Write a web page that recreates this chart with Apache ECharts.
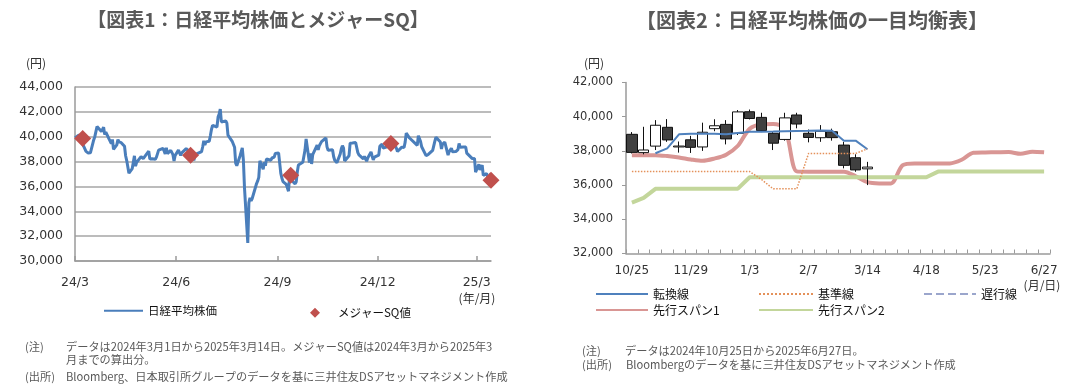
<!DOCTYPE html>
<html><head><meta charset="utf-8">
<script src="https://cdn.jsdelivr.net/npm/echarts@6/dist/echarts.min.js"></script>
<style>html,body{margin:0;padding:0;background:#fff}#c{width:1087px;height:391px}</style>
</head><body><div id="c"></div>
<script>
// ---------- Chart 1: Nikkei daily close & major SQ ----------
const nikkeiDates = [
'2024-03-01','2024-03-04','2024-03-05','2024-03-06','2024-03-07','2024-03-08','2024-03-11','2024-03-12','2024-03-13','2024-03-14','2024-03-15','2024-03-18','2024-03-19','2024-03-21','2024-03-22','2024-03-25','2024-03-26','2024-03-27','2024-03-28','2024-03-29',
'2024-04-01','2024-04-02','2024-04-03','2024-04-04','2024-04-05','2024-04-08','2024-04-09','2024-04-10','2024-04-11','2024-04-12','2024-04-15','2024-04-16','2024-04-17','2024-04-18','2024-04-19','2024-04-22','2024-04-23','2024-04-24','2024-04-25','2024-04-26','2024-04-30',
'2024-05-01','2024-05-02','2024-05-07','2024-05-08','2024-05-09','2024-05-10','2024-05-13','2024-05-14','2024-05-15','2024-05-16','2024-05-17','2024-05-20','2024-05-21','2024-05-22','2024-05-23','2024-05-24','2024-05-27','2024-05-28','2024-05-29','2024-05-30','2024-05-31',
'2024-06-03','2024-06-04','2024-06-05','2024-06-06','2024-06-07','2024-06-10','2024-06-11','2024-06-12','2024-06-13','2024-06-14','2024-06-17','2024-06-18','2024-06-19','2024-06-20','2024-06-21','2024-06-24','2024-06-25','2024-06-26','2024-06-27','2024-06-28',
'2024-07-01','2024-07-02','2024-07-03','2024-07-04','2024-07-05','2024-07-08','2024-07-09','2024-07-10','2024-07-11','2024-07-12','2024-07-16','2024-07-17','2024-07-18','2024-07-19','2024-07-22','2024-07-23','2024-07-24','2024-07-25','2024-07-26','2024-07-29','2024-07-30','2024-07-31',
'2024-08-01','2024-08-02','2024-08-05','2024-08-06','2024-08-07','2024-08-08','2024-08-09','2024-08-13','2024-08-14','2024-08-15','2024-08-16','2024-08-19','2024-08-20','2024-08-21','2024-08-22','2024-08-23','2024-08-26','2024-08-27','2024-08-28','2024-08-29','2024-08-30',
'2024-09-02','2024-09-03','2024-09-04','2024-09-05','2024-09-06','2024-09-09','2024-09-10','2024-09-11','2024-09-12','2024-09-13','2024-09-17','2024-09-18','2024-09-19','2024-09-20','2024-09-24','2024-09-25','2024-09-26','2024-09-27','2024-09-30',
'2024-10-01','2024-10-02','2024-10-03','2024-10-04','2024-10-07','2024-10-08','2024-10-09','2024-10-10','2024-10-11','2024-10-15','2024-10-16','2024-10-17','2024-10-18','2024-10-21','2024-10-22','2024-10-23','2024-10-24','2024-10-25','2024-10-28','2024-10-29','2024-10-30','2024-10-31',
'2024-11-01','2024-11-05','2024-11-06','2024-11-07','2024-11-08','2024-11-11','2024-11-12','2024-11-13','2024-11-14','2024-11-15','2024-11-18','2024-11-19','2024-11-20','2024-11-21','2024-11-22','2024-11-25','2024-11-26','2024-11-27','2024-11-28','2024-11-29',
'2024-12-02','2024-12-03','2024-12-04','2024-12-05','2024-12-06','2024-12-09','2024-12-10','2024-12-11','2024-12-12','2024-12-13','2024-12-16','2024-12-17','2024-12-18','2024-12-19','2024-12-20','2024-12-23','2024-12-24','2024-12-25','2024-12-26','2024-12-27','2024-12-30',
'2025-01-06','2025-01-07','2025-01-08','2025-01-09','2025-01-10','2025-01-14','2025-01-15','2025-01-16','2025-01-17','2025-01-20','2025-01-21','2025-01-22','2025-01-23','2025-01-24','2025-01-27','2025-01-28','2025-01-29','2025-01-30','2025-01-31',
'2025-02-03','2025-02-04','2025-02-05','2025-02-06','2025-02-07','2025-02-10','2025-02-12','2025-02-13','2025-02-14','2025-02-17','2025-02-18','2025-02-19','2025-02-20','2025-02-21','2025-02-25','2025-02-26','2025-02-27','2025-02-28',
'2025-03-03','2025-03-04','2025-03-05','2025-03-06','2025-03-07','2025-03-10','2025-03-11','2025-03-12','2025-03-13','2025-03-14'];
const nikkeiClose = [
39910,40109,40097,40090,39598,39688,38820,38797,38695,38807,38707,39740,40004,40815,40888,40414,40398,40762,40168,40369,
39803,39838,39451,39773,38992,39347,39773,39581,39442,39523,39232,38471,38079,38079,37068,37438,37552,38460,37628,37934,38405,
38274,38236,38835,38202,38073,38229,38179,38356,38385,38920,38787,39069,38946,38617,39103,38646,38900,38855,38556,38054,38487,
38923,38837,38490,38703,38683,39038,39134,38876,38720,38814,38102,38482,38570,38633,38596,38804,39173,39667,39341,39583,
39631,40074,40580,40913,40912,40780,41580,41831,42224,41190,41275,41097,40126,40063,39599,39594,39155,37869,37667,38468,38525,39101,
38126,35909,31458,34675,35089,34831,35025,36232,36442,36726,38062,37388,37951,37670,38211,38364,38110,38288,38371,38362,38647,
38700,38686,37047,36657,36391,36159,36215,35619,36833,36581,36203,36380,37155,37723,37940,37870,38925,39829,37919,
38651,37808,38552,38635,39332,38937,39277,39380,39605,39910,39180,38911,38981,38954,38411,38104,38143,37913,38605,39027,39277,39081,
38053,38474,39480,39381,39500,39533,39376,38721,38536,38642,38220,38414,38352,38026,38283,38780,38442,38134,38349,38208,
38513,39248,39276,39395,39091,39160,39367,39372,39849,39470,39457,39364,39081,38813,38701,39161,39036,39130,39568,40281,39894,
39307,40083,39981,39605,39190,38474,38444,38572,38451,38902,39027,39646,39958,39931,39565,39016,39414,39513,39572,
38520,38798,38831,39066,38787,38801,38963,39461,39149,39174,39270,39164,38678,38776,38237,38142,38256,37155,
37785,37331,37418,37704,36887,37028,36793,36819,36790,37053];
const sqDates = ['2024-03-08','2024-06-14','2024-09-13','2024-12-13','2025-03-14'];
const sqValues = [39850,38500,36900,39450,36500];
const monthTicks = ['2024-03-01','2024-06-01','2024-09-01','2024-12-01','2025-03-01'];

// ---------- Chart 2: weekly Ichimoku ----------
const weeks = ['10/25','11/1','11/8','11/15','11/22','11/29','12/6','12/13','12/20','12/27','1/3','1/10','1/17','1/24','1/31','2/7','2/14','2/21','2/28','3/7','3/14','3/21','3/28','4/4','4/11','4/18','4/25','5/2','5/9','5/16','5/23','5/30','6/6','6/13','6/20','6/27'];
const candleOpen  = [38970,37900,38280,39380,38230,38650,38230,39300,39550,39030,40290,39960,39030,38670,40100,39030,38770,39120,38340,37600,36950];
const candleClose = [37913,38053,39500,38642,38283,38208,39091,39470,38701,40281,39894,39190,38451,39931,39572,38787,39149,38776,37155,36887,37053];
const candleLow   = [37850,37800,38050,38530,37900,37880,38000,39150,38380,38930,39840,39100,38050,38600,39320,38500,38530,38600,36980,36780,36000];
const candleHigh  = [39100,39410,39800,39860,38550,38880,39650,39850,39800,40390,40420,40230,39100,40230,40230,39250,39510,39300,38530,37800,37360];
const tenkan  = [null,null,37860,38150,38970,39000,39000,39000,38970,39050,39120,39120,39130,39150,39170,39180,39200,39180,38600,38600,38100];
const kijun   = [36790,36790,36790,36790,36790,36790,36790,36790,36790,36790,36790,36330,35780,35780,35780,37850,37850,37850,37850,37850,38120];
const chikou  = [];
const senkou1 = [37750,37750,37750,37700,37620,37500,37420,37550,37780,38300,39300,39550,39570,39300,36800,36780,36780,36780,36780,36520,36170,36100,36100,37170,37270,37270,37270,37270,37480,37890,37910,37920,37930,37830,37950,37920];
const senkou2 = [34980,35250,35780,35790,35790,35790,35790,35790,35790,35790,36460,36460,36460,36460,36460,36460,36460,36460,36460,36460,36460,36460,36460,36460,36460,36460,36790,36790,36790,36790,36790,36790,36790,36790,36790,36790];

const DAY = 86400000;
const ts = s => { const [y,m,d] = s.split('-').map(Number); return Date.UTC(y, m-1, d); };
const T0 = ts(nikkeiDates[0]);
const dayOf = s => Math.round((ts(s) - T0) / DAY);
const NUM = '"DejaVu Sans", "Noto Sans CJK JP", sans-serif';
const JP = '"Noto Sans CJK JP", sans-serif';
const AX = '#9A9A9A';

const chart = echarts.init(document.getElementById('c'), null, {renderer:'canvas'});
const txt = (text, x, y, font, fill, align) => ({type:'text', style:{text, x, y, font, fill: fill || '#333', textAlign: align || 'left', textVerticalAlign:'middle'}});
const tickDays = monthTicks.map(dayOf);
// legend icon: small diamond centred in a wider box (the zero-width baseline only sets the box width)
const DIAMOND_ICON = 'path://M0,5L36,5M18,0L23,5L18,10L13,5Z';

chart.setOption({
  animation:false,
  textStyle:{fontFamily: JP},
  grid:[
    {left:75, top:87, width:416, height:174},
    {left:626, top:82.5, width:424, height:171}
  ],
  xAxis:[
    {type:'value', gridIndex:0, min: 0, max: dayOf('2025-03-14'),
     axisLine:{lineStyle:{color:AX, width:1.5}},
     axisTick:{show:true, inside:true, length:5, customValues: tickDays, lineStyle:{color:AX, width:1.5}},
     axisLabel:{customValues: tickDays, margin:15, fontSize:12.5, fontFamily:NUM, color:'#333',
       formatter: v => { const d = new Date(T0 + v * DAY); return String(d.getUTCFullYear()).slice(2) + '/' + (d.getUTCMonth()+1); }},
     splitLine:{show:false}},
    {type:'category', gridIndex:1, data: weeks, boundaryGap:true,
     axisLine:{lineStyle:{color:AX, width:1.5}},
     axisTick:{show:true, inside:true, length:4, interval:0, lineStyle:{color:AX, width:1}},
     axisLabel:{interval:4, margin:11, fontSize:12, fontFamily:NUM, color:'#333'},
     splitLine:{show:false}}
  ],
  yAxis:[
    {type:'value', gridIndex:0, min:30000, max:44000, interval:2000,
     axisLine:{show:true, lineStyle:{color:AX, width:1.5}}, axisTick:{show:false},
     splitLine:{show:true, lineStyle:{color:'#A6A6A6', width:1.5}},
     axisLabel:{margin:12, fontSize:12.5, fontFamily:NUM, color:'#333'}},
    {type:'value', gridIndex:1, min:32000, max:42000, interval:2000,
     axisLine:{show:true, lineStyle:{color:AX, width:1.5}},
     axisTick:{show:true, inside:false, length:4, lineStyle:{color:AX}},
     splitLine:{show:false},
     axisLabel:{margin:13, fontSize:11.5, fontFamily:NUM, color:'#333'}}
  ],
  legend:[
    {data:['日経平均株価'], left:103, top:305, padding:0, itemWidth:39, itemHeight:14, itemStyle:{opacity:0},
     textStyle:{fontSize:11.5, color:'#111', fontFamily:JP}, selectedMode:false},
    {data:[{name:'メジャーSQ値', icon: DIAMOND_ICON}], left:297, top:307, padding:0, itemWidth:36, itemHeight:10,
     itemStyle:{borderWidth:0}, textStyle:{fontSize:11.5, color:'#111', fontFamily:JP}, selectedMode:false},
    {data:['転換線','先行スパン1'], orient:'vertical', left:595, top:288, padding:0, itemGap:4, itemWidth:52, itemHeight:14, itemStyle:{opacity:0},
     textStyle:{fontSize:12, color:'#111', fontFamily:JP}, selectedMode:false},
    {data:['基準線','先行スパン2'], orient:'vertical', left:758, top:288, padding:0, itemGap:4, itemWidth:54, itemHeight:14, itemStyle:{opacity:0},
     textStyle:{fontSize:12, color:'#111', fontFamily:JP}, selectedMode:false},
    {data:['遅行線'], orient:'vertical', left:923, top:288, padding:0, itemGap:4, itemWidth:52, itemHeight:14, itemStyle:{opacity:0},
     textStyle:{fontSize:12, color:'#111', fontFamily:JP}, selectedMode:false}
  ],
  series:[
    {name:'日経平均株価', type:'line', xAxisIndex:0, yAxisIndex:0, symbol:'none', z:2,
     data: nikkeiDates.map((d,i) => [dayOf(d), nikkeiClose[i]]),
     lineStyle:{color:'#4A7EBB', width:3}, itemStyle:{color:'#4A7EBB'}},
    {name:'メジャーSQ値', type:'scatter', xAxisIndex:0, yAxisIndex:0, symbol:'diamond', symbolSize:17, z:3,
     data: sqDates.map((d,i) => [dayOf(d), sqValues[i]]),
     itemStyle:{color:'#C0504D', opacity:1}},
    {name:'先行スパン1', type:'line', xAxisIndex:1, yAxisIndex:1, symbol:'none', smooth:0.3, z:2,
     data: senkou1, lineStyle:{color:'#D99694', width:4}, itemStyle:{color:'#D99694'}},
    {name:'先行スパン2', type:'line', xAxisIndex:1, yAxisIndex:1, symbol:'none', z:2,
     data: senkou2, lineStyle:{color:'#C3D69B', width:4}, itemStyle:{color:'#C3D69B'}},
    {name:'candles', type:'candlestick', xAxisIndex:1, yAxisIndex:1, z:3, barWidth:'92%',
     data: candleOpen.map((o,i) => [o, candleClose[i], candleLow[i], candleHigh[i]]),
     itemStyle:{color:'#FFFFFF', color0:'#404040', borderColor:'#111', borderColor0:'#111', borderWidth:1}},
    {name:'転換線', type:'line', xAxisIndex:1, yAxisIndex:1, symbol:'none', z:4,
     data: tenkan, lineStyle:{color:'#4F81BD', width:2}, itemStyle:{color:'#4F81BD'}},
    {name:'基準線', type:'line', xAxisIndex:1, yAxisIndex:1, symbol:'none', z:4,
     data: kijun, lineStyle:{color:'#E4915A', width:1.5, type:'dotted'}, itemStyle:{color:'#E4915A'}},
    {name:'遅行線', type:'line', xAxisIndex:1, yAxisIndex:1, symbol:'none', z:4,
     data: chikou, lineStyle:{color:'#9BA6CC', width:2, type:'dashed'}, itemStyle:{color:'#9BA6CC'}}
  ],
  graphic:[
    txt('【図表1：日経平均株価とメジャーSQ】', 258, 20, 'bold 19px ' + JP, '#595959', 'center'),
    txt('【図表2：日経平均株価の一目均衡表】', 812, 20, 'bold 20px ' + JP, '#595959', 'center'),
    txt('(円)', 36, 63, '12px ' + JP, '#333', 'center'),
    txt('(円)', 594, 63, '12px ' + JP, '#333', 'center'),
    txt('(年/月)', 477, 298, '12px ' + JP, '#333', 'center'),
    txt('(月/日)', 1042, 285, '12px ' + JP, '#333', 'center'),
    txt('(注)', 25, 347, '11.2px ' + JP, '#595959'),
    txt('データは2024年3月1日から2025年3月14日。メジャーSQ値は2024年3月から2025年3', 66, 347, '11.2px ' + JP, '#595959'),
    txt('月までの算出分。', 66, 360, '11.2px ' + JP, '#595959'),
    txt('(出所)', 25, 377, '11.2px ' + JP, '#595959'),
    txt('Bloomberg、日本取引所グループのデータを基に三井住友DSアセットマネジメント作成', 66, 377, '11.2px ' + JP, '#595959'),
    txt('(注)', 582, 351, '11.2px ' + JP, '#595959'),
    txt('データは2024年10月25日から2025年6月27日。', 625, 351, '11.2px ' + JP, '#595959'),
    txt('(出所)', 582, 365, '11.2px ' + JP, '#595959'),
    txt('Bloombergのデータを基に三井住友DSアセットマネジメント作成', 626, 365, '11.2px ' + JP, '#595959')
  ]
});
</script></body></html>
